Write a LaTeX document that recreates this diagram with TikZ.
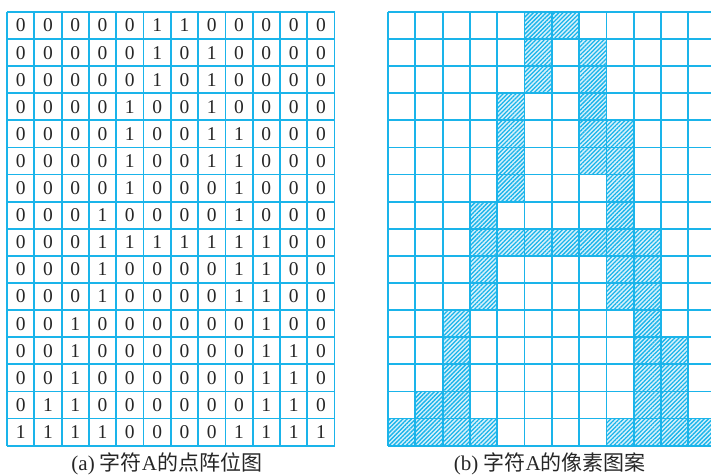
\documentclass[tikz,border=0pt]{standalone}
\usepackage{fontspec}
\setmainfont{Liberation Serif}
\newfontfamily\cjkfont{Noto Sans CJK SC}
\usetikzlibrary{patterns.meta}
\definecolor{GridCyan}{HTML}{1AB4EA}
\definecolor{HatchFill}{HTML}{D6F1FB}
\tikzset{
  gridline/.style={draw=GridCyan, line width=1.8pt},
  bitcell/.style={inner sep=0pt, font=\fontsize{19.5}{19.5}\selectfont, text=black!85},
  pixon/.style={fill=HatchFill, postaction={pattern={Lines[angle=45, distance=3pt, line width=1.3pt]}, pattern color=GridCyan}},
  caption/.style={inner sep=0pt, font=\fontsize{21}{21}\selectfont, text=black!85},
}
% cell size and grid corners (1pt = 1px of the target)
\def\cw{27.3}
\def\ch{27.1}
\def\topY{462}
\def\leftA{7}
\def\leftB{388}

\begin{document}
\begin{tikzpicture}[x=1pt, y=1pt]
  \useasboundingbox (0,0) rectangle (711,474);
  \clip (0,0) rectangle (711,474);
  % bitmap of the letter A, row by row from the top
  \foreach \row [count=\r] in {
      {0,0,0,0,0,1,1,0,0,0,0,0},
      {0,0,0,0,0,1,0,1,0,0,0,0},
      {0,0,0,0,0,1,0,1,0,0,0,0},
      {0,0,0,0,1,0,0,1,0,0,0,0},
      {0,0,0,0,1,0,0,1,1,0,0,0},
      {0,0,0,0,1,0,0,1,1,0,0,0},
      {0,0,0,0,1,0,0,0,1,0,0,0},
      {0,0,0,1,0,0,0,0,1,0,0,0},
      {0,0,0,1,1,1,1,1,1,1,0,0},
      {0,0,0,1,0,0,0,0,1,1,0,0},
      {0,0,0,1,0,0,0,0,1,1,0,0},
      {0,0,1,0,0,0,0,0,0,1,0,0},
      {0,0,1,0,0,0,0,0,0,1,1,0},
      {0,0,1,0,0,0,0,0,0,1,1,0},
      {0,1,1,0,0,0,0,0,0,1,1,0},
      {1,1,1,1,0,0,0,0,1,1,1,1}} {
    \foreach \v [count=\c] in \row {
      \node[bitcell] (a-\r-\c) at ({\leftA+(\c-0.5)*\cw}, {\topY-(\r-0.5)*\ch}) {\v};
      \ifnum\v=1
        \path[pixon] ({\leftB+(\c-1)*\cw}, {\topY-\r*\ch}) rectangle ++(\cw,\ch);
      \fi
    }
  }
  % the two grids
  \draw[gridline, shift={(\leftA,\topY-16*\ch)}] (0,0) grid[xstep=\cw, ystep=\ch] (12*\cw, 16*\ch);
  \draw[gridline, shift={(\leftB,\topY-16*\ch)}] (0,0) grid[xstep=\cw, ystep=\ch] (12*\cw, 16*\ch);
  % captions
  \node[caption] (capA) at ({\leftA+6*\cw-4}, 10) {(a) {\cjkfont 字符}A{\cjkfont 的点阵位图}};
  \node[caption] (capB) at ({\leftB+6*\cw-2}, 10) {(b) {\cjkfont 字符}A{\cjkfont 的像素图案}};
\end{tikzpicture}
\end{document}
